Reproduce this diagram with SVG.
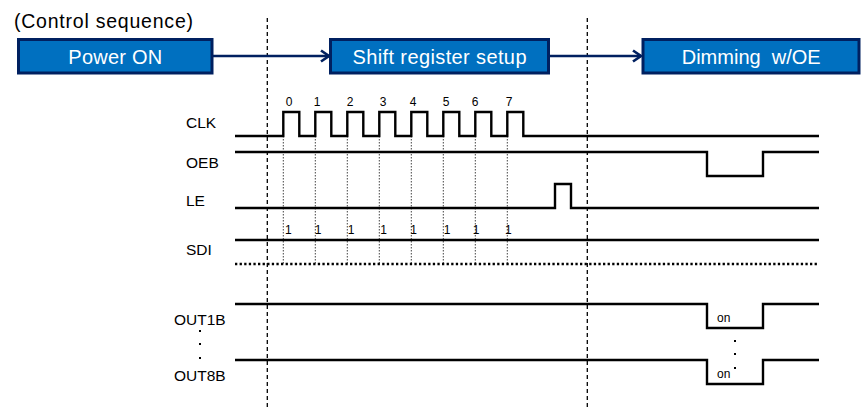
<svg xmlns="http://www.w3.org/2000/svg" width="861" height="420" viewBox="0 0 861 420">
<style>
text{font-family:"Liberation Sans",Arial,sans-serif;fill:#000}
.box{fill:#0070C0;stroke:#002060;stroke-width:3}
.bt{fill:#fff;font-size:20px;text-anchor:middle;white-space:pre}
.lbl{font-size:15.5px}
.num{font-size:12px;text-anchor:middle}
.on{font-size:12px}
.wave{fill:none;stroke:#000;stroke-width:2.4}
.grid{fill:none;stroke:#444;stroke-width:1;stroke-dasharray:1.5,1.5}
.dash{fill:none;stroke:#000;stroke-width:1.3;stroke-dasharray:4,3}
.conn{fill:none;stroke:#002060;stroke-width:2.7}
.dot{fill:#000}
</style>
<defs>
<marker id="chev" markerUnits="userSpaceOnUse" viewBox="0 0 12 14" markerWidth="12" markerHeight="14" refX="10" refY="7" orient="auto">
<path d="M2,1.5 L10,7 L2,12.5" fill="none" stroke="#002060" stroke-width="2.7"/>
</marker>
</defs>

<text x="14" y="28" style="font-size:19.5px" textLength="179" lengthAdjust="spacing">(Control sequence)</text>

<g id="guides">
<line class="dash" x1="267.3" y1="18" x2="267.3" y2="409"/>
<line class="dash" x1="587.3" y1="18" x2="587.3" y2="409"/>
</g>

<g id="connectors">
<line class="conn" x1="212" y1="56" x2="329" y2="56" marker-end="url(#chev)"/>
<line class="conn" x1="549" y1="56" x2="641" y2="56" marker-end="url(#chev)"/>
</g>

<g id="power-on">
<rect class="box" x="18.5" y="39.5" width="193.5" height="33.5"/>
<text class="bt" x="115.3" y="64" textLength="94" lengthAdjust="spacing">Power ON</text>
</g>
<g id="shift-register-setup">
<rect class="box" x="330.5" y="39.5" width="218" height="33.5"/>
<text class="bt" x="439.5" y="64" textLength="174" lengthAdjust="spacing">Shift register setup</text>
</g>
<g id="dimming">
<rect class="box" x="643" y="39.5" width="216" height="33.5"/>
<text class="bt" x="751.2" y="64" textLength="139" lengthAdjust="spacing">Dimming  w/OE</text>
</g>

<g id="labels">
<text class="lbl" x="186" y="128">CLK</text>
<text class="lbl" x="186" y="168">OEB</text>
<text class="lbl" x="186" y="206">LE</text>
<text class="lbl" x="186" y="255">SDI</text>
<text class="lbl" x="174" y="325">OUT1B</text>
<text class="lbl" x="174" y="381">OUT8B</text>
<rect class="dot" x="199" y="330" width="2" height="2"/>
<rect class="dot" x="199" y="343" width="2" height="2"/>
<rect class="dot" x="199" y="357" width="2" height="2"/>
</g>

<g id="grid">
<line class="grid" x1="283.3" y1="136" x2="283.3" y2="264"/>
<line class="grid" x1="315.3" y1="136" x2="315.3" y2="264"/>
<line class="grid" x1="347.3" y1="136" x2="347.3" y2="264"/>
<line class="grid" x1="379.3" y1="136" x2="379.3" y2="264"/>
<line class="grid" x1="411.3" y1="136" x2="411.3" y2="264"/>
<line class="grid" x1="443.3" y1="136" x2="443.3" y2="264"/>
<line class="grid" x1="475.3" y1="136" x2="475.3" y2="264"/>
<line class="grid" x1="507.3" y1="136" x2="507.3" y2="264"/>
</g>

<g id="clk">
<path class="wave" d="M235,136 H283.3 V112 H299.3 V136 H315.3 V112 H331.3 V136 H347.3 V112 H363.3 V136 H379.3 V112 H395.3 V136 H411.3 V112 H427.3 V136 H443.3 V112 H459.3 V136 H475.3 V112 H491.3 V136 H507.3 V112 H523.3 V136 H819"/>
<text class="num" x="289" y="106">0</text>
<text class="num" x="317" y="106">1</text>
<text class="num" x="350" y="106">2</text>
<text class="num" x="383" y="106">3</text>
<text class="num" x="413" y="106">4</text>
<text class="num" x="446" y="106">5</text>
<text class="num" x="475" y="106">6</text>
<text class="num" x="509" y="106">7</text>
</g>

<g id="oeb">
<path class="wave" d="M235,152 H707 V176 H763 V152 H819"/>
</g>

<g id="le">
<path class="wave" d="M235,208 H555 V184 H571 V208 H819"/>
</g>

<g id="sdi">
<path class="wave" d="M235,240 H819"/>
<path class="wave" d="M235,264 H819" style="stroke-dasharray:2.3,2.3"/>
<text class="num" x="288.3" y="234">1</text>
<text class="num" x="318" y="234">1</text>
<text class="num" x="351" y="234">1</text>
<text class="num" x="383.7" y="234">1</text>
<text class="num" x="413.7" y="234">1</text>
<text class="num" x="447" y="234">1</text>
<text class="num" x="476" y="234">1</text>
<text class="num" x="508.3" y="234">1</text>
</g>

<g id="out1b">
<path class="wave" d="M235,304 H707 V328 H763 V304 H819"/>
<text class="on" x="717" y="322">on</text>
</g>

<g id="out8b">
<path class="wave" d="M235,360 H707 V384 H763 V360 H819"/>
<text class="on" x="717" y="377.5">on</text>
<rect class="dot" x="734" y="340" width="2" height="2"/>
<rect class="dot" x="734" y="353" width="2" height="2"/>
<rect class="dot" x="734" y="367" width="2" height="2"/>
</g>
</svg>
